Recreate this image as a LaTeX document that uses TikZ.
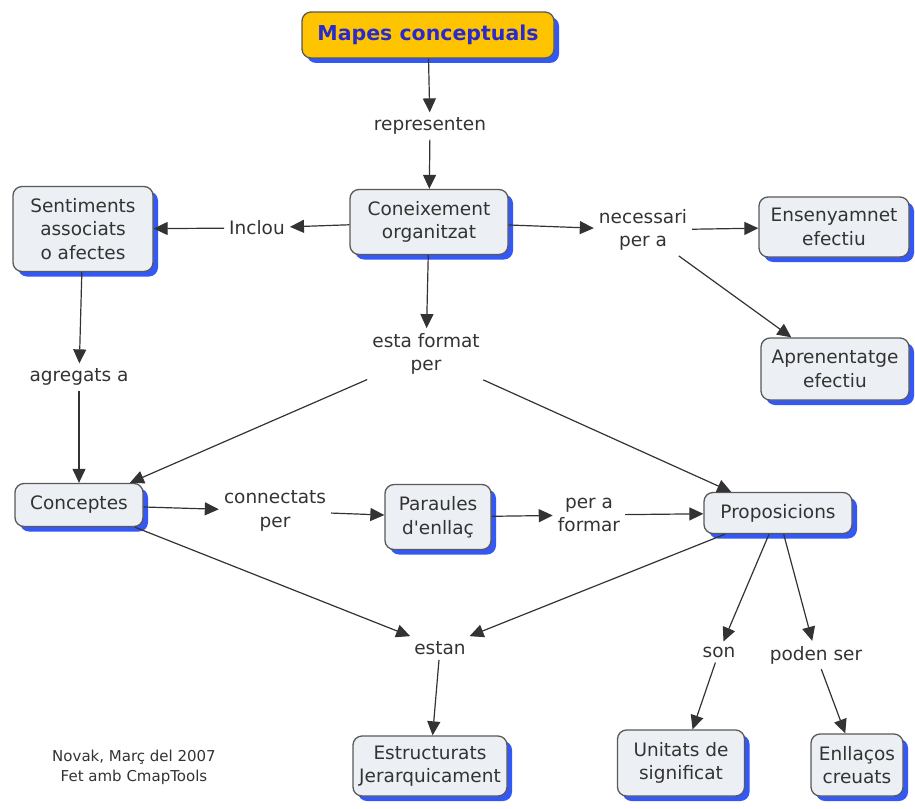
\documentclass[tikz,border=0pt]{standalone}
\usepackage{fontspec}
\setmainfont{DejaVu Sans}
\usetikzlibrary{arrows.meta,shadows}
\definecolor{boxfill}{HTML}{ECF0F4}
\definecolor{shadowblue}{HTML}{3358F5}
\definecolor{titlefill}{HTML}{FFC400}
\definecolor{titletext}{HTML}{2A2ACC}
\definecolor{txt}{HTML}{333333}
\begin{document}
\begin{tikzpicture}[x=1pt,y=-1pt,
  concept/.style={draw=black!65, line width=1.3pt, fill=boxfill, rounded corners=9pt,
    align=center, font=\fontsize{18.5}{23.5}\selectfont, text=txt, inner sep=4pt,
    drop shadow={shadow xshift=5pt, shadow yshift=-5pt, fill=shadowblue, opacity=1}},
  title/.style={concept, fill=titlefill, text=titletext, font=\fontsize{20.5}{24}\selectfont\bfseries},
  link/.style={align=center, font=\fontsize{18.5}{23.5}\selectfont, text=txt, inner sep=5pt},
  conn/.style={draw=black!80, line width=1.2pt, -{Triangle[length=14pt,width=13pt]}}]
\useasboundingbox (0,0) rectangle (915,808);

% concepts
\node[title, minimum width=252, minimum height=46] (map) at (428,35) {Mapes conceptuals};
\node[concept, minimum width=158, minimum height=65] (ck) at (429,222) {Coneixement\\organitzat};
\node[concept, minimum width=140, minimum height=85] (sent) at (83,229) {Sentiments\\associats\\o afectes};
\node[concept, minimum width=150, minimum height=60] (ens) at (834,227) {Ensenyamnet\\efectiu};
\node[concept, minimum width=148, minimum height=62] (apr) at (835,369) {Aprenentatge\\efectiu};
\node[concept, minimum width=128, minimum height=43] (conc) at (79,505) {Conceptes};
\node[concept, minimum width=106, minimum height=65] (par) at (438,517) {Paraules\\d\textquotesingle enllaç};
\node[concept, minimum width=148, minimum height=41] (prop) at (778,513) {Proposicions};
\node[concept, minimum width=154, minimum height=60] (est) at (430,766) {Estructurats\\Jerarquicament};
\node[concept, minimum width=127, minimum height=66] (uni) at (681,763) {Unitats de\\significat};
\node[concept, minimum width=92, minimum height=62] (enl) at (857,765) {Enllaços\\creuats};

% linking phrases
\node[link] (rep) at (430,126) {representen};
\node[link] (inc) at (257,228) {Inclou};
\node[link] (nec) at (643,230) {necessari\\per a};
\node[link] (esta) at (426,354) {esta format\\per};
\node[link] (agr) at (79,377) {agregats a};
\node[link] (con) at (275,511) {connectats\\per};
\node[link] (pera) at (589,515) {per a\\formar};
\node[link] (estan) at (440,648) {estan};
\node[link] (son) at (719,652) {son};
\node[link] (pod) at (816,655) {poden ser};

\node[align=center, text=txt, font=\fontsize{15}{20}\selectfont] (nov) at (134,767) {Novak, Març del 2007\\Fet amb CmapTools};

% connectors
\draw[conn] (map) -- (rep);
\draw[conn] (rep) -- (ck);
\draw[conn] (ck) -- (inc);
\draw[conn] (inc) -- (sent);
\draw[conn] (ck) -- (nec);
\draw[conn] (nec) -- (ens);
\draw[conn] (nec) -- (apr);
\draw[conn] (ck) -- (esta);
\draw[conn] (esta) -- (conc);
\draw[conn] (esta) -- (prop);
\draw[conn] (sent) -- (agr);
\draw[conn] (agr) -- (conc);
\draw[conn] (conc) -- (con);
\draw[conn] (con) -- (par);
\draw[conn] (par) -- (pera);
\draw[conn] (pera) -- (prop);
\draw[conn] (conc) -- (estan);
\draw[conn] (prop) -- (estan);
\draw[conn] (estan) -- (est);
\draw[conn] (prop) -- (son);
\draw[conn] (son) -- (uni);
\draw[conn] (prop) -- (pod);
\draw[conn] (pod) -- (enl);
\end{tikzpicture}
\end{document}
